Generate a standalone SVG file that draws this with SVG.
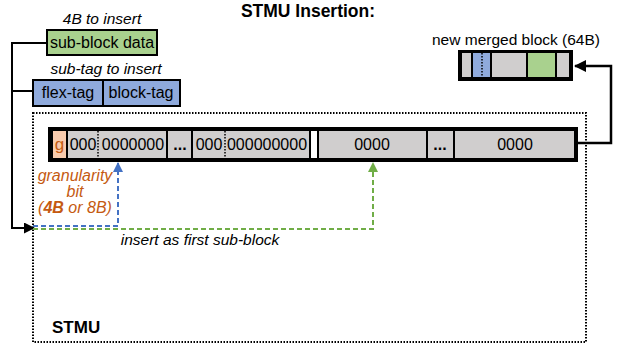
<svg xmlns="http://www.w3.org/2000/svg" width="623" height="349" viewBox="0 0 623 349">
  <style>
    text { font-family: "Liberation Sans", Arial, sans-serif; fill: #000; }
    .title { font-size: 17.5px; font-weight: bold; }
    .lbl { font-size: 15.5px; }
    .it { font-size: 15.5px; font-style: italic; }
    .cell { fill: #D0CECE; stroke: none; }
    .num { font-size: 16px; text-anchor: middle; }
    .orange { fill: #C55A11; }
    .wire { fill: none; stroke: #000; stroke-width: 2; }
    .divider { stroke: #000; stroke-width: 1.5; stroke-dasharray: 1.5 1.5; }
  </style>
  <defs>
    <marker id="arrowBlack" markerWidth="11" markerHeight="11" refX="10" refY="5.5" orient="auto" markerUnits="userSpaceOnUse" viewBox="0 0 11 11">
      <path d="M0,0 L11,5.5 L0,11 Z" fill="#000"/>
    </marker>
    <marker id="arrowBlackBig" markerWidth="12" markerHeight="12" refX="11" refY="6" orient="auto" markerUnits="userSpaceOnUse" viewBox="0 0 12 12">
      <path d="M0,0 L12,6 L0,12 Z" fill="#000"/>
    </marker>
    <marker id="arrowBlue" markerWidth="10" markerHeight="10" refX="9" refY="5" orient="auto" markerUnits="userSpaceOnUse" viewBox="0 0 10 10">
      <path d="M0,0 L10,5 L0,10 Z" fill="#4472C4"/>
    </marker>
    <marker id="arrowGreen" markerWidth="10" markerHeight="10" refX="9" refY="5" orient="auto" markerUnits="userSpaceOnUse" viewBox="0 0 10 10">
      <path d="M0,0 L10,5 L0,10 Z" fill="#70AD47"/>
    </marker>
  </defs>

  <text class="title" x="308" y="17" text-anchor="middle">STMU Insertion:</text>

  <!-- STMU container -->
  <g id="stmu">
    <rect x="33" y="113" width="553" height="229" fill="none" stroke="#000" stroke-width="2" stroke-dasharray="1.5 1.5"/>
    <text x="52" y="333" style="font-size:17px;font-weight:bold">STMU</text>
  </g>

  <!-- inputs -->
  <g id="sub-block-data">
    <text class="it" x="102" y="24" text-anchor="middle">4B to insert</text>
    <rect x="47" y="30" width="110" height="25" fill="#A9D18E" stroke="#000" stroke-width="2"/>
    <text class="lbl" x="102" y="48" text-anchor="middle" style="font-size:16px">sub-block data</text>
  </g>

  <g id="sub-tag">
    <text class="it" x="106" y="74" text-anchor="middle">sub-tag to insert</text>
    <rect x="33" y="80" width="147" height="26" fill="#8FAADC" stroke="#000" stroke-width="2"/>
    <line x1="103" y1="80" x2="103" y2="106" stroke="#000" stroke-width="2"/>
    <text class="lbl" x="68" y="98" text-anchor="middle" style="font-size:16px">flex-tag</text>
    <text class="lbl" x="141" y="98" text-anchor="middle" style="font-size:16px">block-tag</text>
  </g>

  <!-- tag store row -->
  <g id="tag-row">
    <rect x="48" y="127" width="530" height="35" fill="#000"/>
    <rect x="53" y="131" width="13" height="27" fill="#F8CBAD"/>
    <text class="num orange" x="59.5" y="150" style="font-size:17px">g</text>
    <rect class="cell" x="68" y="131" width="98" height="27"/>
    <line class="divider" x1="98" y1="131" x2="98" y2="158"/>
    <text class="num" x="83" y="150">000</text>
    <text class="num" x="133" y="150">0000000</text>
    <rect class="cell" x="168" y="131" width="23" height="27"/>
    <text class="num" x="180" y="150" font-weight="bold">...</text>
    <rect class="cell" x="193" y="131" width="116" height="27"/>
    <line class="divider" x1="225" y1="131" x2="225" y2="158"/>
    <text class="num" x="209" y="150">000</text>
    <text class="num" x="267" y="150">000000000</text>
    <rect x="311" y="131" width="6" height="27" fill="#fff"/>
    <rect class="cell" x="319" y="131" width="107" height="27"/>
    <text class="num" x="372" y="150">0000</text>
    <rect class="cell" x="428" y="131" width="25" height="27"/>
    <text class="num" x="440" y="150" font-weight="bold">...</text>
    <rect class="cell" x="455" y="131" width="119" height="27"/>
    <text class="num" x="515" y="150">0000</text>
  </g>

  <g id="granularity-note">
    <text class="it orange" x="75" y="181" text-anchor="middle" style="font-size:16px">granularity</text>
    <text class="it orange" x="75" y="197" text-anchor="middle" style="font-size:16px">bit</text>
    <text class="it orange" x="75" y="213" text-anchor="middle" style="font-size:16px">(<tspan font-weight="bold">4B</tspan> or 8B)</text>
  </g>

  <!-- merged output block -->
  <g id="merged-block">
    <text class="lbl" x="516" y="45" text-anchor="middle">new merged block (64B)</text>
    <rect x="458" y="50" width="115" height="31" fill="#000"/>
    <rect class="cell" x="462" y="53" width="9" height="24"/>
    <rect x="473" y="53" width="17" height="24" fill="#8FAADC"/>
    <line class="divider" x1="482" y1="53" x2="482" y2="77"/>
    <rect class="cell" x="492" y="53" width="34" height="24"/>
    <rect x="528" y="53" width="27" height="24" fill="#A9D18E"/>
    <rect class="cell" x="557" y="53" width="12" height="24"/>
  </g>

  <!-- connectors -->
  <g id="connectors">
    <path class="wire" d="M47,43 H12 V228 H34" marker-end="url(#arrowBlack)"/>
    <path class="wire" d="M33,91 H12"/>
    <path d="M33,226 H118 V163" fill="none" stroke="#4472C4" stroke-width="2" stroke-dasharray="5 3" marker-end="url(#arrowBlue)"/>
    <path d="M33,229 H373 V163" fill="none" stroke="#70AD47" stroke-width="2" stroke-dasharray="5 3" marker-end="url(#arrowGreen)"/>
    <path d="M578,143 H611 V66 H575" fill="none" stroke="#000" stroke-width="2.5" marker-end="url(#arrowBlackBig)"/>
  </g>

  <text class="it" x="200" y="245" text-anchor="middle">insert as first sub-block</text>
</svg>
